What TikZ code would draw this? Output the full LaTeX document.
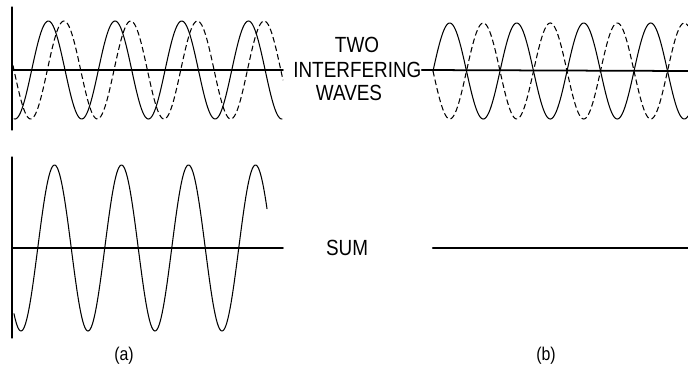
\documentclass[tikz,border=0pt]{standalone}
\usepackage{fontspec}
\setmainfont{Liberation Sans}[FakeStretch=0.86]
\begin{document}
\begin{tikzpicture}[x=0.02cm,y=-0.02cm,line join=round,line cap=round,
  onda/.style={line width=0.6pt},
  ondatr/.style={line width=0.6pt,line cap=butt,dash pattern=on 3.2pt off 1.8pt},
  asse/.style={line width=1pt},
  assev/.style={line width=0.6pt},
  scritta/.style={inner sep=0pt,font=\fontsize{12.5}{14}\selectfont},
  didasc/.style={inner sep=0pt,font=\fontsize{10.5}{12}\selectfont}]
  \useasboundingbox (0,0) rectangle (688,369);

  % --- (a) le due onde sfasate di un quarto di periodo (periodo 66.7: 360/66.7=5.397)
  \draw[assev] (12,7) -- (12,130);
  \draw[asse] (12,70) -- (283,70);
  \draw[onda] plot[domain=14:282,samples=240] (\x,{70+49*cos(5.397*(\x-15))});
  \draw[ondatr] plot[domain=13:283,samples=240] (\x,{70-49*cos(5.397*(\x-64))});

  % --- scritte centrali
  \node[scritta] (two) at (357,45) {TWO};
  \node[scritta,anchor=west] (interf) at (293,70) {INTERFERING};
  \node[scritta] (waves) at (349,93) {WAVES};
  \node[scritta] (sum) at (347,248) {SUM};

  % --- (b) le due onde in opposizione di fase (periodo 67: 360/67=5.373)
  \coordinate (bdx) at (688,71);
  \draw[asse] (interf.east) -- (bdx);
  \draw[onda] plot[domain=433:688,samples=240] (\x,{71-48*sin(5.373*(\x-433))});
  \draw[ondatr] plot[domain=433:688,samples=240] (\x,{71+48*sin(5.373*(\x-433))});

  % --- somme
  \draw[assev] (12,157) -- (12,338);
  \draw[asse] (12,248) -- (283,248);
  \draw[onda] plot[domain=14:267,samples=240] (\x,{248+83*cos(5.373*(\x-21))});
  \coordinate (bsx) at (433,248);
  \coordinate (bdx2) at (688,248);
  \draw[line width=1.3pt] (bsx) -- (bdx2);

  % --- didascalie
  \node[didasc] (capa) at (124,356) {(a)};
  \node[didasc] (capb) at (546,356) {(b)};
\end{tikzpicture}
\end{document}
